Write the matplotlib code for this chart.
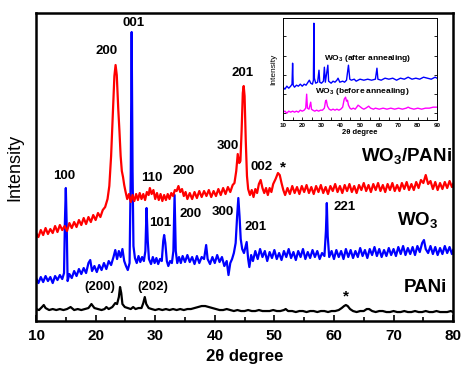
import numpy as np
import matplotlib.pyplot as plt

plt.rcParams["font.family"] = ["Liberation Sans", "DejaVu Sans"]
plt.rcParams["mathtext.fontset"] = "custom"
plt.rcParams["mathtext.bf"] = "Liberation Sans:bold"
plt.rcParams["mathtext.rm"] = "Liberation Sans"
plt.rcParams["mathtext.default"] = "bf"

### main pattern data (2theta, intensity offset in a.u.)
wo3_pani = [
    (10.0, 88), (10.4, 84), (10.8, 91), (11.2, 86), (11.6, 93), (12.0, 87), (12.4, 92), (12.8, 88),
    (13.2, 95), (13.6, 89), (14.0, 96), (14.4, 91), (14.8, 95), (15.2, 90), (15.6, 98), (16.0, 93),
    (16.4, 99), (16.8, 94), (17.2, 101), (17.6, 96), (18.0, 103), (18.4, 97), (18.8, 104), (19.2, 99),
    (19.6, 106), (20.0, 101), (20.4, 108), (20.8, 104), (21.2, 111), (21.6, 114), (22.0, 122),
    (22.3, 135), (22.6, 165), (22.9, 210), (23.15, 245), (23.35, 256), (23.55, 246), (23.8, 212),
    (24.0, 190), (24.2, 165), (24.4, 150), (24.6, 144), (24.8, 136), (25.0, 130), (25.3, 122),
    (25.6, 127), (25.9, 119), (26.2, 126), (26.5, 120), (26.8, 127), (27.1, 121), (27.4, 128),
    (27.7, 122), (28.0, 127), (28.3, 121), (28.6, 129), (28.9, 126), (29.1, 133), (29.4, 127),
    (29.7, 131), (30.0, 122), (30.3, 128), (30.6, 121), (30.9, 127), (31.2, 120), (31.5, 126),
    (31.8, 121), (32.1, 127), (32.4, 122), (32.7, 128), (33.0, 125), (33.3, 131), (33.6, 130),
    (33.9, 135), (34.2, 129), (34.5, 132), (34.8, 125), (35.1, 129), (35.4, 122), (35.8, 128),
    (36.2, 122), (36.6, 129), (37.0, 123), (37.4, 130), (37.8, 124), (38.2, 130), (38.6, 125),
    (39.0, 131), (39.4, 124), (39.8, 130), (40.2, 125), (40.6, 132), (41.0, 126), (41.4, 133),
    (41.8, 127), (42.2, 134), (42.6, 129), (43.0, 136), (43.3, 138), (43.6, 150), (43.85, 167),
    (44.1, 158), (44.3, 160), (44.5, 190), (44.7, 228), (44.85, 235), (45.0, 225), (45.2, 180),
    (45.4, 145), (45.6, 132), (45.9, 126), (46.2, 131), (46.5, 124), (46.8, 132), (47.1, 128),
    (47.4, 137), (47.7, 141), (48.0, 133), (48.3, 128), (48.6, 133), (48.9, 126), (49.2, 133),
    (49.5, 129), (49.8, 137), (50.2, 142), (50.6, 148), (50.9, 146), (51.2, 138), (51.5, 131),
    (51.8, 126), (52.2, 133), (52.6, 127), (53.0, 135), (53.4, 128), (53.8, 134), (54.2, 127),
    (54.6, 135), (55.0, 129), (55.4, 136), (55.8, 128), (56.2, 134), (56.6, 127), (57.0, 135),
    (57.4, 129), (57.8, 136), (58.2, 128), (58.6, 134), (59.0, 127), (59.4, 135), (59.8, 130),
    (60.2, 137), (60.6, 129), (61.0, 135), (61.4, 128), (61.8, 136), (62.2, 130), (62.6, 137),
    (63.0, 129), (63.4, 135), (63.8, 128), (64.2, 136), (64.6, 131), (65.0, 138), (65.4, 130),
    (65.8, 136), (66.2, 129), (66.6, 137), (67.0, 131), (67.4, 138), (67.8, 130), (68.2, 136),
    (68.6, 129), (69.0, 137), (69.4, 131), (69.8, 138), (70.2, 130), (70.6, 136), (71.0, 130),
    (71.4, 138), (71.8, 132), (72.2, 139), (72.6, 131), (73.0, 137), (73.4, 131), (73.8, 139),
    (74.2, 133), (74.6, 141), (75.0, 138), (75.4, 146), (75.8, 137), (76.2, 140), (76.6, 132),
    (77.0, 139), (77.4, 131), (77.8, 138), (78.2, 132), (78.6, 139), (79.0, 133), (79.4, 140),
    (79.8, 134), (80.0, 137),
]

wo3 = [
    (10.0, 43), (10.4, 38), (10.8, 44), (11.2, 39), (11.6, 45), (12.0, 40), (12.4, 44), (12.8, 38),
    (13.2, 45), (13.6, 41), (14.0, 46), (14.4, 42), (14.7, 48), (14.85, 100), (15.0, 133),
    (15.15, 95), (15.3, 40), (15.6, 47), (16.0, 43), (16.4, 50), (16.8, 45), (17.2, 52), (17.6, 47),
    (18.0, 53), (18.4, 48), (18.8, 58), (19.1, 61), (19.4, 50), (19.8, 55), (20.2, 49), (20.6, 56),
    (21.0, 51), (21.4, 58), (21.8, 52), (22.2, 60), (22.6, 56), (23.0, 64), (23.3, 71), (23.6, 62),
    (23.9, 70), (24.2, 64), (24.5, 72), (24.8, 60), (25.1, 55), (25.4, 51), (25.7, 58), (25.9, 150),
    (26.05, 289), (26.2, 150), (26.35, 75), (26.6, 63), (26.9, 58), (27.2, 65), (27.5, 59),
    (27.8, 64), (28.1, 60), (28.35, 70), (28.55, 113), (28.75, 80), (28.95, 62), (29.3, 57),
    (29.6, 64), (29.9, 58), (30.2, 63), (30.5, 57), (30.8, 62), (31.1, 60), (31.35, 80), (31.5, 86),
    (31.7, 78), (31.95, 60), (32.2, 55), (32.5, 60), (32.8, 58), (33.05, 70), (33.25, 126),
    (33.45, 70), (33.7, 58), (34.0, 64), (34.3, 58), (34.6, 65), (35.0, 59), (35.4, 66), (35.8, 59),
    (36.2, 64), (36.6, 57), (37.0, 65), (37.4, 58), (37.8, 64), (38.2, 62), (38.55, 76), (38.8, 62),
    (39.2, 57), (39.6, 64), (40.0, 58), (40.4, 66), (40.8, 59), (41.2, 64), (41.6, 55), (42.0, 60),
    (42.3, 46), (42.6, 58), (42.9, 62), (43.2, 68), (43.5, 78), (43.75, 105), (43.95, 123),
    (44.15, 105), (44.35, 82), (44.6, 72), (44.9, 68), (45.1, 73), (45.35, 79), (45.6, 62),
    (45.8, 54), (46.1, 66), (46.4, 60), (46.8, 70), (47.2, 62), (47.6, 72), (48.0, 64), (48.4, 70),
    (48.8, 60), (49.2, 69), (49.6, 63), (50.0, 71), (50.4, 62), (50.8, 68), (51.2, 61), (51.6, 70),
    (52.0, 64), (52.4, 72), (52.8, 63), (53.2, 69), (53.6, 61), (54.0, 70), (54.4, 64), (54.8, 72),
    (55.2, 62), (55.6, 69), (56.0, 63), (56.4, 71), (56.8, 64), (57.2, 70), (57.6, 62), (58.0, 68),
    (58.4, 65), (58.65, 90), (58.8, 118), (58.95, 85), (59.2, 64), (59.6, 70), (60.0, 62),
    (60.4, 71), (60.8, 64), (61.2, 70), (61.6, 62), (62.0, 72), (62.4, 64), (62.8, 71), (63.2, 63),
    (63.6, 70), (64.0, 64), (64.4, 73), (64.8, 65), (65.2, 71), (65.6, 63), (66.0, 72), (66.4, 66),
    (66.8, 74), (67.2, 65), (67.6, 72), (68.0, 64), (68.4, 71), (68.8, 65), (69.2, 73), (69.6, 66),
    (70.0, 72), (70.4, 65), (70.8, 74), (71.2, 67), (71.6, 75), (72.0, 66), (72.4, 73), (72.8, 67),
    (73.2, 74), (73.6, 66), (74.0, 75), (74.4, 69), (74.8, 78), (75.1, 81), (75.4, 72), (75.8, 68),
    (76.2, 75), (76.6, 67), (77.0, 74), (77.4, 66), (77.8, 73), (78.2, 67), (78.6, 75), (79.0, 68),
    (79.4, 74), (79.8, 67), (80.0, 71),
]

pani = [
    (10.0, 12), (10.5, 11), (11.0, 14), (11.3, 16), (11.6, 13), (12.2, 11), (12.8, 12), (13.4, 11),
    (14.0, 12), (14.6, 11), (15.2, 12), (15.8, 14), (16.4, 11), (17.0, 12), (17.6, 11), (18.2, 12),
    (18.8, 13), (19.3, 17), (19.8, 13), (20.4, 12), (21.0, 11), (21.5, 12), (21.8, 14), (22.2, 12),
    (22.8, 14), (23.3, 18), (23.6, 17), (23.9, 24), (24.1, 34), (24.3, 28), (24.5, 17), (24.9, 14),
    (25.4, 13), (25.9, 12), (26.3, 14), (26.7, 12), (27.2, 13), (27.7, 13), (28.0, 18), (28.25, 24),
    (28.5, 17), (28.9, 13), (29.4, 12), (30.0, 11), (30.6, 12), (31.2, 11), (31.8, 12), (32.4, 11),
    (33.0, 12), (33.6, 11), (34.2, 12), (34.8, 11), (35.4, 12), (36.0, 12), (36.6, 13), (37.2, 14),
    (37.8, 15), (38.4, 15), (39.0, 14), (39.6, 13), (40.2, 12), (40.8, 11), (41.4, 11), (42.0, 12),
    (42.6, 11), (43.2, 10), (43.8, 11), (44.4, 10), (45.0, 10), (45.6, 11), (46.2, 10), (46.8, 10),
    (47.4, 11), (48.0, 10), (48.6, 10), (49.2, 10), (49.8, 11), (50.4, 10), (51.0, 10), (51.6, 11),
    (51.9, 12), (52.3, 10), (53.0, 10), (53.6, 9), (54.2, 10), (54.8, 10), (55.4, 9), (56.0, 10),
    (56.6, 10), (57.2, 9), (57.8, 10), (58.4, 10), (59.0, 9), (59.6, 10), (60.2, 10), (60.8, 11),
    (61.3, 13), (61.7, 15), (62.0, 16), (62.3, 15), (62.7, 12), (63.2, 10), (63.8, 9), (64.4, 10),
    (65.0, 10), (65.5, 12), (65.9, 12), (66.4, 10), (67.0, 9), (67.6, 10), (68.2, 10), (68.8, 9),
    (69.4, 9), (70.0, 10), (70.6, 9), (71.2, 9), (71.8, 10), (72.4, 9), (73.0, 9), (73.6, 10),
    (74.2, 9), (74.8, 9), (75.4, 10), (76.0, 9), (76.6, 9), (77.2, 10), (77.8, 9), (78.4, 9),
    (79.0, 9), (79.6, 10), (80.0, 9),
]

### inset data
wo3_after = [
    (10, 33), (11, 31), (12, 34), (13, 32), (14, 34), (14.7, 36), (15.0, 57), (15.3, 35), (16, 33),
    (17, 35), (18, 34), (19, 36), (20, 34), (21, 36), (22, 35), (23, 38), (23.7, 40), (24.4, 37),
    (25.3, 36), (25.8, 40), (26.05, 97), (26.3, 42), (27, 37), (28, 38), (28.7, 50), (29.1, 38),
    (30, 37), (31, 39), (31.5, 53), (32, 38), (33.3, 55), (33.7, 39), (35, 37), (36, 39), (37, 38),
    (38, 40), (38.6, 42), (39.5, 38), (41, 39), (42, 38), (43, 40), (44, 55), (44.7, 41), (45.5, 40),
    (47, 41), (48, 39), (50, 41), (52, 40), (54, 41), (56, 40), (58, 41), (58.8, 52), (59.3, 41),
    (61, 40), (63, 42), (65, 41), (67, 42), (69, 40), (71, 42), (73, 41), (75, 43), (77, 41),
    (79, 42), (81, 41), (83, 43), (85, 42), (87, 41), (89, 43), (90, 42),
]
wo3_before = [
    (10, 8), (11, 9), (12, 7), (13, 9), (14, 8), (15, 9), (16, 8), (17, 9), (18, 8), (19, 10),
    (20, 9), (21, 10), (21.8, 12), (22.3, 26), (22.7, 12), (23.5, 11), (24.4, 18), (24.8, 11),
    (25.5, 10), (26.5, 9), (27.5, 10), (28.5, 9), (29.5, 10), (30.5, 10), (31.5, 12), (32.1, 19),
    (32.5, 20), (33.1, 14), (34, 11), (35, 10), (36, 11), (37, 10), (38, 11), (39, 10), (40, 11),
    (41, 13), (41.8, 21), (42.5, 23), (43.0, 19), (43.5, 20), (44.0, 15), (44.8, 12), (45.5, 11),
    (46.5, 12), (47.5, 11), (48.3, 13), (49.0, 15), (49.7, 14), (51, 12), (52, 11), (53, 12),
    (54.5, 14), (55.5, 12), (57, 11), (58, 12), (60, 11), (62, 12), (64, 11), (66, 12), (68, 11),
    (70, 12), (72, 11), (74, 12), (75, 13), (76, 12), (78, 11), (80, 12), (82, 11), (84, 12),
    (86, 12), (88, 13), (90, 13),
]

# peak labels: (text, 2theta, height)
peak_labels = [
    ("100", 14.7, 145), ("200", 21.9, 270), ("001", 26.3, 298), ("110", 29.5, 143),
    ("200", 34.8, 150), ("300", 42.2, 175), ("201", 44.6, 248), ("002", 47.9, 154),
    ("101", 30.8, 98), ("200", 36.0, 107), ("300", 41.4, 109), ("201", 46.9, 94),
    ("221", 61.7, 114), ("(200)", 20.7, 34), ("(202)", 29.6, 34),
]
star_labels = [(51.5, 154), (62.0, 25)]
sample_labels = [("WO$_3$/PANi", 72.1, 165), ("WO$_3$", 74.1, 101), ("PANi", 75.3, 34)]


def main():
    fig = plt.figure(figsize=(4.74, 3.72), dpi=100)
    ax = fig.add_axes([0.076, 0.137, 0.880, 0.828])

    for data, c in [(pani, "black"), (wo3, "#0000ff"), (wo3_pani, "#ff0000")]:
        d = np.array(data)
        ax.plot(d[:, 0], d[:, 1], c=c, lw=1.6)

    ax.set_xlim(10, 80)
    ax.set_ylim(0, 308)
    ax.set_xticks(np.arange(10, 81, 10))
    ax.set_xticks(np.arange(15, 80, 10), minor=True)
    ax.set_yticks([])
    ax.tick_params(axis="x", which="both", direction="in", width=1.2, pad=6, labelsize=11)
    ax.tick_params(axis="x", which="major", length=4)
    ax.tick_params(axis="x", which="minor", length=3)
    for lbl in ax.get_xticklabels():
        lbl.set_fontweight("bold")
    for s in ax.spines.values():
        s.set_linewidth(1.8)
    ax.set_xlabel("2θ degree", fontsize=12, fontweight="bold", labelpad=4)
    ax.set_ylabel("Intensity", fontsize=13, labelpad=9)

    for txt, x, y in peak_labels:
        ax.text(x, y, txt, ha="center", va="center", fontsize=9.5, fontweight="bold")
    for x, y in star_labels:
        ax.text(x, y, "*", ha="center", va="center", fontsize=11, fontweight="bold")
    for txt, x, y in sample_labels:
        ax.text(x, y, txt, ha="center", va="center", fontsize=13.5, fontweight="bold")

    ### inset
    ins = fig.add_axes([0.597, 0.677, 0.325, 0.274])
    d = np.array(wo3_after)
    ins.plot(d[:, 0], d[:, 1], c="#0000ff", lw=1.0)
    d = np.array(wo3_before)
    ins.plot(d[:, 0], d[:, 1], c="#ff00ff", lw=1.0)
    ins.set_xlim(10, 90)
    ins.set_ylim(0, 102)
    ins.set_xticks(np.arange(10, 91, 10))
    ins.set_xticks(np.arange(15, 90, 10), minor=True)
    ins.set_yticks([7, 26, 45, 64, 84])
    ins.set_yticklabels([])
    ins.tick_params(which="both", direction="in", width=0.6, length=2, pad=2,
                    labelsize=4.5, right=True)
    for lbl in ins.get_xticklabels():
        lbl.set_fontweight("bold")
    for s in ins.spines.values():
        s.set_linewidth(0.7)
    ins.set_xlabel("2θ degree", fontsize=5.5, fontweight="bold", labelpad=1)
    ins.set_ylabel("Intensity", fontsize=6, labelpad=2)
    ins.text(54, 62, "WO$_3$ (after annealing)", ha="center", va="center", fontsize=6, fontweight="bold")
    ins.text(51, 29, "WO$_3$ (before annealing)", ha="center", va="center", fontsize=6, fontweight="bold")

    fig.savefig("out.png", dpi=100)


if __name__ == "__main__":
    main()
